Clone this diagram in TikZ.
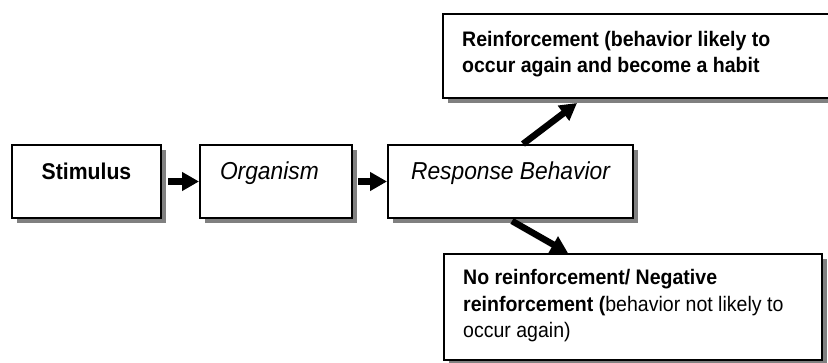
\documentclass[tikz,border=0pt]{standalone}
\usepackage{fontspec}
\setmainfont{Liberation Sans}[FakeStretch=0.93]
\usetikzlibrary{arrows.meta,shadows,calc}
\begin{document}
\begin{tikzpicture}[x=1pt,y=1pt,
  box/.style={draw=black,line width=2pt,fill=white,rectangle,
    drop shadow={shadow xshift=5pt,shadow yshift=-5pt,fill=black!50,opacity=1}},
  rowbox/.style={box,anchor=north west,inner ysep=0pt,text height=35pt,text depth=38pt,
    font=\fontsize{24.5}{29}\selectfont},
  sidetext/.style={anchor=base west,align=left,inner sep=0pt,
    font=\fontsize{21}{26.5}\selectfont},
  fatarrow/.style={line width=6.5pt,-{Triangle[length=17pt,width=18pt]}}]
\useasboundingbox (0,0) rectangle (828,363);
\clip (0,0) rectangle (828,363);
\node[rowbox,minimum width=149pt,font=\fontsize{22.8}{27}\selectfont\bfseries] (stim) at (11,219) {Stimulus};
\node[rowbox,text width=112pt,inner xsep=20pt,align=left] (org) at (199,219) {\itshape Organism};
\node[rowbox,minimum width=245pt] (resp) at (387,219) {\itshape Response Behavior};
\node[box,anchor=north west,minimum width=400pt,minimum height=84pt] (rein) at (442,350) {};
\node[box,anchor=north west,minimum width=378pt,minimum height=106pt] (norein) at (443,110) {};
\node[sidetext] (reintext) at (462,290) {\bfseries Reinforcement (behavior likely to\\ \bfseries occur again and become a habit};
\node[sidetext] (noreintext) at (463,25) {\textbf{No reinforcement/ Negative}\\ \textbf{reinforcement (}behavior not likely to\\ occur again)};
\coordinate (u1) at ($(resp.north west)+(136,0)$);
\coordinate (u2) at ($(rein.south west)+(135,-4)$);
\coordinate (d1) at ($(resp.south west)+(125,-2)$);
\coordinate (d2) at ($(norein.north west)+(125,0)$);
\draw[fatarrow] ([xshift=6pt]stim.east) -- (org.west);
\draw[fatarrow] ([xshift=5pt]org.east) -- (resp.west);
\draw[fatarrow] (u1) -- (u2);
\draw[fatarrow] (d1) -- (d2);
\end{tikzpicture}
\end{document}
